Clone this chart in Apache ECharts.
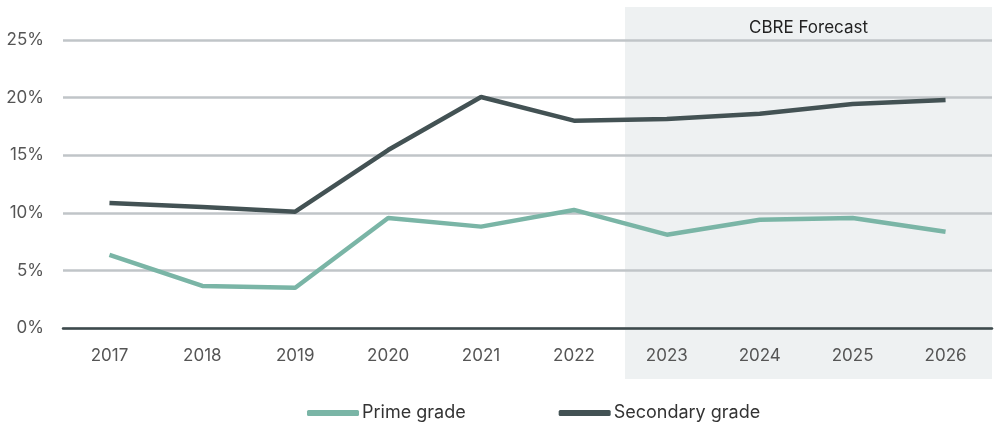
<!DOCTYPE html>
<html><head><meta charset="utf-8">
<script src="https://cdn.jsdelivr.net/npm/echarts@6/dist/echarts.min.js"></script>
<style>html,body{margin:0;padding:0;background:#fff}#c{width:1006px;height:430px}</style>
</head><body><div id="c"></div>
<script>
const years = ['2017','2018','2019','2020','2021','2022','2023','2024','2025','2026'];
const prime = [6.35, 3.65, 3.5, 9.55, 8.8, 10.25, 8.1, 9.4, 9.55, 8.35];
const secondary = [10.85, 10.5, 10.1, 15.45, 20.05, 18.0, 18.15, 18.6, 19.45, 19.8];
const yTicks = [0, 5, 10, 15, 20, 25];
const forecastStart = '2023';
const forecastLabel = 'CBRE Forecast';

const FONT = 'Inter, Roboto, sans-serif';
const chart = echarts.init(document.getElementById('c'));
chart.setOption({
  animation: false,
  grid: { left: 63, right: 14, top: 40, bottom: 102 },
  legend: {
    top: 399, left: 302, itemGap: 93, itemWidth: 52, itemHeight: 6,
    icon: 'roundRect',
    textStyle: { fontFamily: FONT, fontSize: 18, color: '#333', padding: [0,0,0,-2] },
    data: ['Prime grade', 'Secondary grade']
  },
  xAxis: {
    type: 'category', data: years, boundaryGap: true,
    axisLine: { lineStyle: { color: '#3d4a4c', width: 2.5 } },
    axisTick: { show: false },
    axisLabel: { fontFamily: FONT, fontSize: 17, color: '#555', margin: 19 }
  },
  yAxis: {
    type: 'value', min: yTicks[0], max: yTicks[yTicks.length-1], interval: 5,
    axisLine: { show: false }, axisTick: { show: false },
    axisLabel: { fontFamily: FONT, fontSize: 17, color: '#555', margin: 19, formatter: v => v + '%' },
    splitLine: { lineStyle: { color: '#c0c5c8', width: 2.5 } }
  },
  series: [
    { name: 'Prime grade', type: 'line', data: prime, symbol: 'none', z: 3,
      itemStyle: { color: '#7ab5a6' }, lineStyle: { color: '#7ab5a6', width: 4.5 } },
    { name: 'Secondary grade', type: 'line', data: secondary, symbol: 'none', z: 4,
      itemStyle: { color: '#435254' }, lineStyle: { color: '#435254', width: 4.5 } }
  ]
});

function drawForecast() {
  const i = years.indexOf(forecastStart);
  const p0 = chart.convertToPixel({ xAxisIndex: 0 }, years[i-1]);
  const p1 = chart.convertToPixel({ xAxisIndex: 0 }, years[i]);
  const pLast = chart.convertToPixel({ xAxisIndex: 0 }, years[years.length-1]);
  const x0 = p0 + (p1 - p0) * 0.55;
  const x1 = pLast + (p1 - p0) / 2;
  const y0 = 7, y1 = 379;
  chart.setOption({
    graphic: [
      { type: 'rect', z: -10, silent: true,
        shape: { x: x0, y: y0, width: x1 - x0, height: y1 - y0 },
        style: { fill: '#eef1f2' } },
      { type: 'text', z: 10, silent: true,
        x: (x0 + x1) / 2, y: 28,
        style: { text: forecastLabel, fontFamily: FONT, fontSize: 17, fill: '#222',
                 align: 'center', verticalAlign: 'middle' } }
    ]
  });
}
drawForecast();
</script></body></html>
